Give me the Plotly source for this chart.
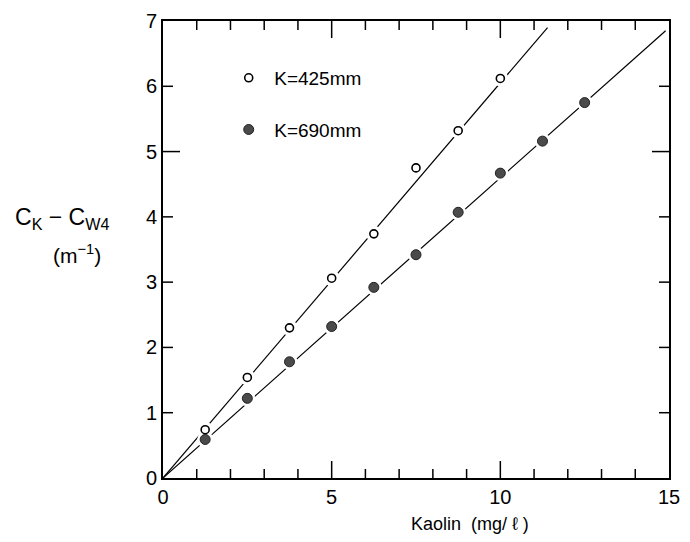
import plotly.graph_objects as go

# Data
kaolin_425 = [1.25, 2.5, 3.75, 5.0, 6.25, 7.5, 8.75, 10.0]
c_425 = [0.74, 1.54, 2.30, 3.06, 3.74, 4.75, 5.32, 6.12]
kaolin_690 = [1.25, 2.5, 3.75, 5.0, 6.25, 7.5, 8.75, 10.0, 11.25, 12.5]
c_690 = [0.59, 1.22, 1.78, 2.32, 2.92, 3.42, 4.07, 4.67, 5.16, 5.75]
fit_425_x = [0, 11.4]
fit_425_y = [0, 6.9]
fit_690_x = [0, 14.9]
fit_690_y = [0, 6.85]
x_ticks = [0, 5, 10, 15]
y_ticks = [0, 1, 2, 3, 4, 5, 6, 7]
x_minor_ticks = [1, 2, 3, 4, 6, 7, 8, 9, 11, 12, 13, 14]
x_major_marks = [5, 10]
y_short_marks = [1, 2, 3, 4, 6]
y_long_marks = [5]

FONT = "Liberation Sans"
X_RANGE = [0, 15]
Y_RANGE = [0, 7]
fig = go.Figure()

for fx, fy in [(fit_425_x, fit_425_y), (fit_690_x, fit_690_y)]:
    fig.add_trace(go.Scatter(x=fx, y=fy, mode="lines", line=dict(color="black", width=1.2),
                             showlegend=False, hoverinfo="skip"))

# white halos to break the lines around the markers
for xs, ys in [(kaolin_425, c_425), (kaolin_690, c_690)]:
    fig.add_trace(go.Scatter(x=xs, y=ys, mode="markers",
                             marker=dict(size=16, color="white", line=dict(width=0)),
                             showlegend=False, hoverinfo="skip"))

fig.add_trace(go.Scatter(x=kaolin_425, y=c_425, mode="markers", name="K=425mm",
                         legendgroup="a",
                         marker=dict(size=8, color="white", line=dict(color="black", width=1.6))))
fig.add_trace(go.Scatter(x=kaolin_690, y=c_690, mode="markers", name="K=690mm",
                         legendgroup="b",
                         marker=dict(size=10, color="#4a4a4a", line=dict(color="#222", width=1))))

fig.update_layout(
    width=690, height=542,
    margin=dict(l=163, r=10, t=10, b=64),
    paper_bgcolor="white", plot_bgcolor="white",
    font=dict(family=FONT, color="black", size=20),
    showlegend=True,
    legend=dict(x=0.119, y=0.917, xanchor="left", yanchor="top",
                bgcolor="rgba(0,0,0,0)", font=dict(size=19, family=FONT),
                tracegroupgap=24, itemwidth=41),
    xaxis=dict(range=X_RANGE, tickvals=x_ticks, ticks="",
               showline=True, linecolor="black", linewidth=1.8, mirror=True,
               showgrid=False, zeroline=False, tickfont=dict(color="black")),
    yaxis=dict(range=Y_RANGE, tickvals=y_ticks, ticks="",
               showline=True, linecolor="black", linewidth=1.8, mirror=True,
               showgrid=False, zeroline=False, tickfont=dict(color="black")),
)

# inward tick marks on all four sides, placed by the axis scales
tick_style = dict(color="black", width=1.5)


def x_tick(v, length):
    for anchor, sign in [(Y_RANGE[0], 1), (Y_RANGE[1], -1)]:
        fig.add_shape(type="line", xref="x", yref="y", x0=v, x1=v,
                      ysizemode="pixel", yanchor=anchor, y0=0, y1=sign * length,
                      line=tick_style, layer="above")


def y_tick(v, length):
    for anchor, sign in [(X_RANGE[0], 1), (X_RANGE[1], -1)]:
        fig.add_shape(type="line", xref="x", yref="y", y0=v, y1=v,
                      xsizemode="pixel", xanchor=anchor, x0=0, x1=sign * length,
                      line=tick_style, layer="above")


for v in x_minor_ticks:
    x_tick(v, 9)
for v in x_major_marks:
    x_tick(v, 17)
for v in y_short_marks:
    y_tick(v, 10)
for v in y_long_marks:
    y_tick(v, 17)

fig.add_annotation(text="Kaolin  (mg/ ℓ )", xref="paper", yref="paper",
                   x=0.607, y=-0.1, xanchor="center", yanchor="middle",
                   showarrow=False, font=dict(size=18, family=FONT))
fig.add_annotation(text="C<sub>K</sub> − C<sub>W4</sub>", xref="paper", yref="paper",
                   x=-0.2, y=0.568, xanchor="center", yanchor="middle",
                   showarrow=False, font=dict(size=23, family=FONT))
fig.add_annotation(text="(m<sup>−1</sup>)", xref="paper", yref="paper",
                   x=-0.170, y=0.49, xanchor="center", yanchor="middle",
                   showarrow=False, font=dict(size=21, family=FONT))

fig.write_html("out.html")
